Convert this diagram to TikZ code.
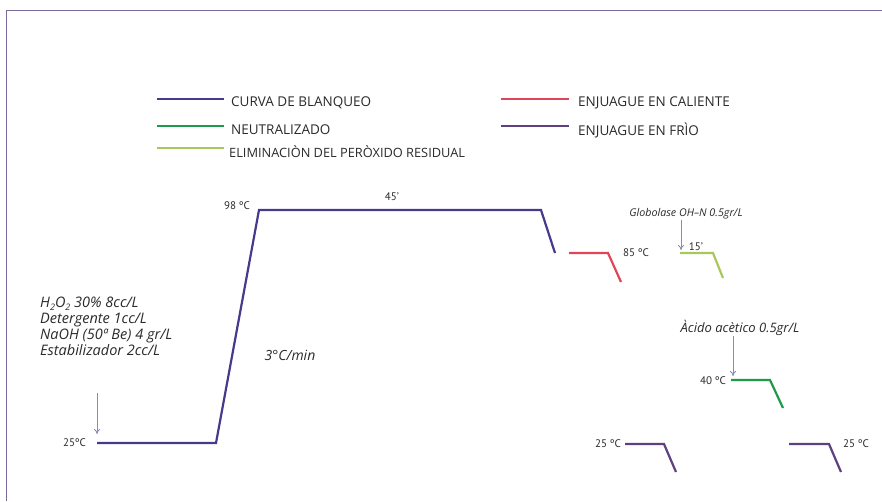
\documentclass[tikz,border=0pt]{standalone}
\usepackage{fontspec}
\setmainfont{Open Sans}
\newfontfamily\hand{Open Sans}
\newfontfamily\lab{PT Sans}
\usetikzlibrary{arrows.meta}
\definecolor{frame}{HTML}{7B6A9E}
\definecolor{blanq}{HTML}{463A8C}
\definecolor{calred}{HTML}{E0465A}
\definecolor{neugreen}{HTML}{1F9A4B}
\definecolor{elimgreen}{HTML}{A8C85A}
\definecolor{friop}{HTML}{5E3F80}
\definecolor{arrowc}{HTML}{8A89B8}
\definecolor{txt}{HTML}{2A2A2A}
\tikzset{
  curve/.style={line width=2.2pt, line join=miter},
  legtext/.style={anchor=west, inner sep=0pt, text=txt, font=\hand\fontsize{13.5}{14}\selectfont},
  temp/.style={inner sep=0pt, text=txt, font=\lab\fontsize{11}{12}\selectfont},
  note/.style={inner sep=0pt, text=txt, font=\hand\itshape\fontsize{13}{14}\selectfont},
  addarrow/.style={draw=arrowc, line width=0.9pt, -{To[length=5pt,width=6pt]}},
}
\begin{document}
\begin{tikzpicture}[x=1pt,y=-1pt]
\useasboundingbox (0,0) rectangle (882,501);
% frame
\coordinate (fr1) at (882,10);
\coordinate (fr2) at (6,10);
\coordinate (fr3) at (6,501);
\draw[frame, line width=1pt] (fr1) -- (fr2) -- (fr3);

% legend
\coordinate (l1a) at (157,99);  \coordinate (l1b) at (224,99);
\coordinate (l2a) at (157,126); \coordinate (l2b) at (224,126);
\coordinate (l3a) at (157,148); \coordinate (l3b) at (224,148);
\coordinate (l4a) at (501,99);  \coordinate (l4b) at (569,99);
\coordinate (l5a) at (501,126); \coordinate (l5b) at (569,126);
\draw[curve, blanq] (l1a) -- (l1b);
\draw[curve, neugreen] (l2a) -- (l2b);
\draw[curve, elimgreen] (l3a) -- (l3b);
\draw[curve, calred] (l4a) -- (l4b);
\draw[curve, friop] (l5a) -- (l5b);
\node[legtext] (t1) at (231,103) {CURVA DE BLANQUEO};
\node[legtext] (t2) at (231,130) {NEUTRALIZADO};
\node[legtext, font=\hand\fontsize{12.8}{13}\selectfont] (t3) at (229,152) {ELIMINACIÒN DEL PERÒXIDO RESIDUAL};
\node[legtext] (t4) at (578,103) {ENJUAGUE EN CALIENTE};
\node[legtext] (t5) at (578,130) {ENJUAGUE EN FRÌO};

% bleaching curve
\coordinate (b1) at (97,443);
\coordinate (b2) at (216,443);
\coordinate (b3) at (259,210);
\coordinate (b4) at (541,210);
\coordinate (b5) at (555,253);
\draw[curve, blanq] (b1) -- (b2) -- (b3) -- (b4) -- (b5);
\node[temp, anchor=east] (t98) at (250,206) {98 ºC};
\node[temp] (t45) at (392,197) {45’};
\node[temp, anchor=east] (t25a) at (86,443) {25ºC};
\node[note, font=\hand\itshape\fontsize{14}{15}\selectfont] (rate) at (290,355) {3°C/min};
\node[note, anchor=north west, align=left, font=\hand\itshape\fontsize{14.5}{16}\selectfont] (recipe) at (40,297) {H{\fontsize{9}{9}\selectfont\raisebox{-2.5pt}{2}}O{\fontsize{9}{9}\selectfont\raisebox{-2.5pt}{2}} 30\% 8cc/L\\Detergente 1cc/L\\NaOH (50ª Be) 4 gr/L\\Estabilizador 2cc/L};
\coordinate (a1s) at (97,393);
\coordinate (a1e) at (97,434);
\draw[addarrow] (a1s) -- (a1e);

% hot rinse
\coordinate (r1) at (569,253);
\coordinate (r2) at (608,253);
\coordinate (r3) at (621,282);
\draw[curve, calred] (r1) -- (r2) -- (r3);
\node[temp, anchor=west] (t85) at (623,253) {85 ºC};

% peroxide elimination
\coordinate (e1) at (680,253);
\coordinate (e2) at (713,253);
\coordinate (e3) at (723,278);
\draw[curve, elimgreen] (e1) -- (e2) -- (e3);
\node[temp] (t15) at (696,247) {15’};
\node[note, font=\hand\itshape\fontsize{10.7}{11}\selectfont] (glob) at (686,214) {Globolase OH–N 0.5gr/L};
\coordinate (a2e) at (681,250);
\draw[addarrow] (glob.south -| a2e) -- (a2e);

% neutralization
\coordinate (n1) at (731,380);
\coordinate (n2) at (770,380);
\coordinate (n3) at (783,408);
\draw[curve, neugreen] (n1) -- (n2) -- (n3);
\node[temp, anchor=east] (t40) at (726,381) {40 ºC};
\node[note] (acid) at (740,328) {Àcido acètico 0.5gr/L};
\coordinate (a3e) at (733,376);
\draw[addarrow] (acid.south -| a3e) -- (a3e);

% cold rinses
\coordinate (f1) at (625,444);
\coordinate (f2) at (664,444);
\coordinate (f3) at (676,472);
\draw[curve, friop] (f1) -- (f2) -- (f3);
\node[temp, anchor=east] (t25b) at (621,444) {25 ºC};
\coordinate (g1) at (789,444);
\coordinate (g2) at (829,444);
\coordinate (g3) at (841,472);
\draw[curve, friop] (g1) -- (g2) -- (g3);
\node[temp, anchor=west] (t25c) at (843,444) {25 ºC};
\end{tikzpicture}
\end{document}
